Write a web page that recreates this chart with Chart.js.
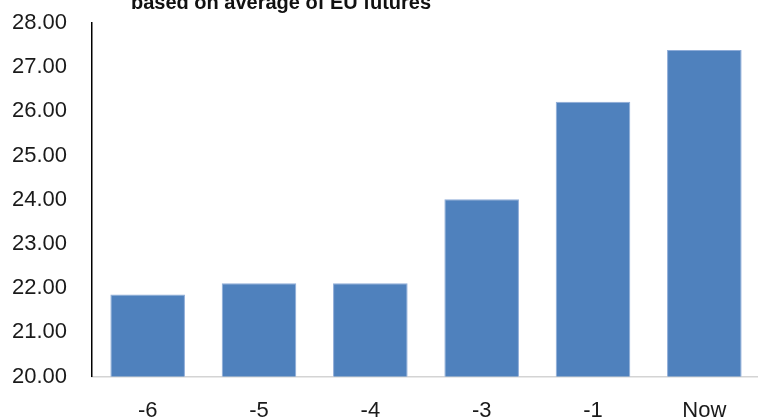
<!DOCTYPE html>
<html>
<head>
<meta charset="utf-8">
<title>EU futures chart</title>
<script src="https://cdn.jsdelivr.net/npm/chart.js@4"></script>
<style>
  html, body { margin: 0; padding: 0; background: #fff; overflow: hidden; }
  #wrap { position: relative; width: 758px; height: 419px; overflow: hidden; }
  #myChart { position: absolute; left: 0; top: -40px; }
</style>
</head>
<body>
<div id="wrap">
  <canvas id="myChart" width="762" height="485"></canvas>
</div>
<script>
// months back from now
const labels = ["-6", "-5", "-4", "-3", "-1", "Now"];
// average of EU futures
const values = [21.86, 22.11, 22.11, 24.01, 26.22, 27.39];
// y axis range
const yMin = 20;
const yMax = 28;
const yStep = 1;

const titleText = "based on average of EU futures";

// title drawn by hand so it can sit left of centre like the original sheet
const titlePlugin = {
  id: "sheetTitle",
  afterDraw: function (chart) {
    const ctx = chart.ctx;
    ctx.save();
    ctx.font = "bold 20px 'Liberation Sans', Arial, sans-serif";
    ctx.fillStyle = "#111";
    ctx.textAlign = "center";
    ctx.textBaseline = "alphabetic";
    ctx.fillText(titleText, 281, 49);
    ctx.restore();
  },
};

const data = {
  labels: labels,
  datasets: [
    {
      data: values,
      backgroundColor: "#4f81bd",
      borderColor: "#8eacd8",
      borderWidth: 1,
      barPercentage: 0.67,
      categoryPercentage: 1,
    },
  ],
};

const tickFont = { family: "'Liberation Sans', Arial, sans-serif", size: 22 };

const config = {
  type: "bar",
  data: data,
  options: {
    responsive: false,
    animation: false,
    devicePixelRatio: 1,
    layout: { padding: { top: 63, right: 2, bottom: 0, left: 0 } },
    plugins: {
      legend: { display: false },
      tooltip: { enabled: false },
      title: { display: false },
    },
    scales: {
      x: {
        grid: { display: false, drawTicks: false },
        border: { display: true, color: "#d4d4d4", width: 1.5 },
        ticks: { color: "#1a1a1a", font: tickFont, padding: 21 },
      },
      y: {
        min: yMin,
        max: yMax,
        grid: { display: false, drawTicks: false },
        border: { display: true, color: "#000", width: 1.5 },
        ticks: {
          stepSize: yStep,
          color: "#1a1a1a",
          font: tickFont,
          padding: 25,
          callback: function (v) {
            return Number(v).toFixed(2);
          },
        },
        afterFit: function (scale) {
          scale.width = 92;
        },
      },
    },
  },
  plugins: [titlePlugin],
};

const myChart = new Chart(document.getElementById("myChart"), config);
</script>
</body>
</html>
